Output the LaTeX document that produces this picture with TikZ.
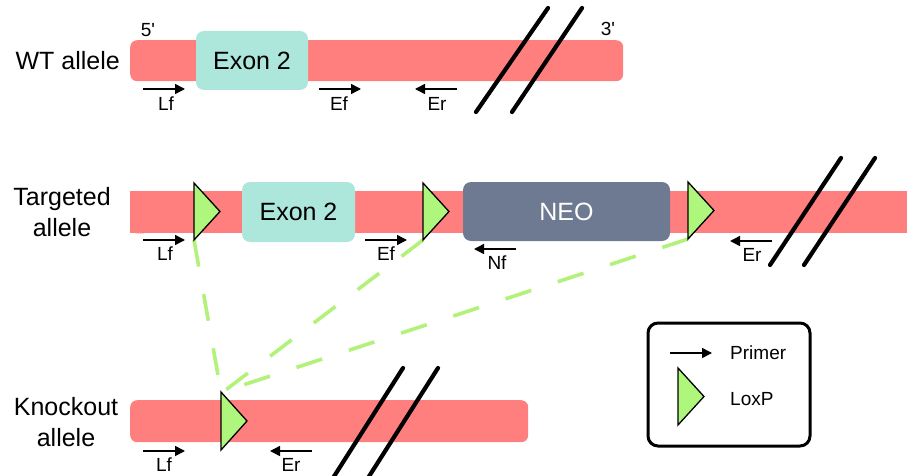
\documentclass[tikz,border=0pt]{standalone}
\usepackage{fontspec}
\setmainfont{Liberation Sans}
\usetikzlibrary{arrows.meta}
\definecolor{barred}{HTML}{FF7F7F}
\definecolor{exoncol}{HTML}{ADE7DB}
\definecolor{neocol}{HTML}{6E7A91}
\definecolor{loxcol}{HTML}{AEF77C}
\definecolor{dashgreen}{HTML}{B2F27A}
\begin{document}
\begin{tikzpicture}[x=1pt,y=-1pt,
  bar/.style={fill=barred, draw=none, rounded corners=7pt, inner sep=0pt, anchor=north west},
  exonbox/.style={fill=exoncol, draw=none, rounded corners=8pt, inner sep=0pt, minimum width=112pt, minimum height=59pt, font=\fontsize{25}{30}\selectfont},
  neobox/.style={fill=neocol, draw=none, rounded corners=8pt, inner sep=0pt, text=white, font=\fontsize{25}{30}\selectfont},
  biglabel/.style={font=\fontsize{25}{31}\selectfont, align=center, inner sep=0pt},
  small/.style={font=\fontsize{19}{22}\selectfont, inner sep=0pt},
  primer/.style={line width=1.5pt, -{Triangle[length=10pt,width=10pt]}},
  loxp/.style={fill=loxcol, draw=black, line width=1.3pt, line join=miter},
  brk/.style={line width=4.2pt, line cap=round},
  greendash/.style={draw=dashgreen, line width=3.6pt, dash pattern=on 27pt off 28pt}
]
\useasboundingbox (0,0) rectangle (907,476);

% ---------------- WT allele ----------------
\node[bar, minimum width=493pt, minimum height=41pt] (wtbar) at (130,40) {};
\node[exonbox] (wtexon) at (252,60.5) {Exon 2};
\node[biglabel, anchor=east] (wtlab) at (120,61) {WT allele};
\node[small] (wt5) at (148,30) {5\textquotesingle};
\node[small] (wt3) at (608,29) {3\textquotesingle};
\coordinate (wtb1a) at (476,112); \coordinate (wtb1b) at (548,8);
\coordinate (wtb2a) at (512,112); \coordinate (wtb2b) at (582,8);
\draw[brk] (wtb1a) -- (wtb1b);
\draw[brk] (wtb2a) -- (wtb2b);
\coordinate (wlf1) at (143,89); \coordinate (wlf2) at (185,89);
\draw[primer] (wlf1) -- (wlf2);
\node[small] (wlf) at (166,103.5) {Lf};
\coordinate (wef1) at (319,89); \coordinate (wef2) at (361,89);
\draw[primer] (wef1) -- (wef2);
\node[small] (wef) at (339,103.5) {Ef};
\coordinate (wer1) at (457,89); \coordinate (wer2) at (415,89);
\draw[primer] (wer1) -- (wer2);
\node[small] (wer) at (437,103.5) {Er};

% ---------------- Targeted allele ----------------
\node[bar, rounded corners=0pt, minimum width=777pt, minimum height=42pt] (tgbar) at (130,191) {};
\fill[barred, rounded corners=7pt] (tgbar.north west) rectangle ([xshift=20pt]tgbar.south west);
\node[biglabel] (tglab) at (62,212.5) {Targeted\\allele};
\node[exonbox, minimum width=113pt, minimum height=60pt] (tgexon) at (298.5,212) {Exon 2};
\node[neobox, minimum width=207pt, minimum height=59pt] (neo) at (566.5,211.5) {NEO};
\coordinate (tb1a) at (770,265); \coordinate (tb1b) at (841,158);
\coordinate (tb2a) at (804,265); \coordinate (tb2b) at (875,158);
\draw[brk] (tb1a) -- (tb1b);
\draw[brk] (tb2a) -- (tb2b);

% LoxP sites (targeted)
\coordinate (l1t) at (194,183); \coordinate (l1b) at (194,240); \coordinate (l1p) at (220,211.5);
\coordinate (l2t) at (423,183); \coordinate (l2b) at (423,240); \coordinate (l2p) at (449,211.5);
\coordinate (l3t) at (688,182); \coordinate (l3b) at (688,239); \coordinate (l3p) at (714,210.5);

% primers (targeted)
\coordinate (tlf1) at (143,240); \coordinate (tlf2) at (185,240);
\draw[primer] (tlf1) -- (tlf2);
\node[small] (tlf) at (165,254) {Lf};
\coordinate (tef1) at (365,240); \coordinate (tef2) at (407,240);
\draw[primer] (tef1) -- (tef2);
\node[small] (tef) at (386,254) {Ef};
\coordinate (tnf1) at (516,249); \coordinate (tnf2) at (474,249);
\draw[primer] (tnf1) -- (tnf2);
\node[small] (tnf) at (497,263) {Nf};
\coordinate (ter1) at (772,241); \coordinate (ter2) at (730,241);
\draw[primer] (ter1) -- (ter2);
\node[small] (ter) at (752,255) {Er};

% ---------------- Knockout allele ----------------
\node[bar, minimum width=398pt, minimum height=42pt] (kobar) at (130,400) {};
\node[biglabel] (kolab) at (66,422.5) {Knockout\\allele};
\coordinate (kt) at (221,392); \coordinate (kb) at (221,450); \coordinate (kp) at (247,421);
\coordinate (kb1a) at (333,478); \coordinate (kb1b) at (403,368);
\coordinate (kb2a) at (368,478); \coordinate (kb2b) at (438,368);
\draw[brk] (kb1a) -- (kb1b);
\draw[brk] (kb2a) -- (kb2b);
\coordinate (klf1) at (143,451); \coordinate (klf2) at (185,451);
\draw[primer] (klf1) -- (klf2);
\node[small] (klf) at (164,465) {Lf};
\coordinate (ker1) at (312,451); \coordinate (ker2) at (270,451);
\draw[primer] (ker1) -- (ker2);
\node[small] (ker) at (291,465) {Er};

% dashed recombination lines
\coordinate (k3end) at (243,385);
\draw[greendash] (l1b) -- (kt);
\draw[greendash] (l2b) -- ([xshift=2pt]kt);
\draw[greendash] (l3b) -- (k3end);

% triangles on top
\draw[loxp] (l1t) -- (l1p) -- (l1b) -- cycle;
\draw[loxp] (l2t) -- (l2p) -- (l2b) -- cycle;
\draw[loxp] (l3t) -- (l3p) -- (l3b) -- cycle;
\draw[loxp] (kt) -- (kp) -- (kb) -- cycle;

% ---------------- Legend ----------------
\node[draw=black, line width=3pt, rounded corners=10pt, minimum width=162pt, minimum height=123pt, inner sep=0pt] (legend) at (729,384.5) {};
\coordinate (gp1) at (670,353); \coordinate (gp2) at (712,353);
\draw[primer] (gp1) -- (gp2);
\node[small, anchor=west] (gprimer) at (730,353) {Primer};
\coordinate (gt) at (678,368); \coordinate (gb) at (678,425); \coordinate (gp) at (704,396.5);
\draw[loxp] (gt) -- (gp) -- (gb) -- cycle;
\node[small, anchor=west] (gloxp) at (730,399) {LoxP};
\end{tikzpicture}
\end{document}
